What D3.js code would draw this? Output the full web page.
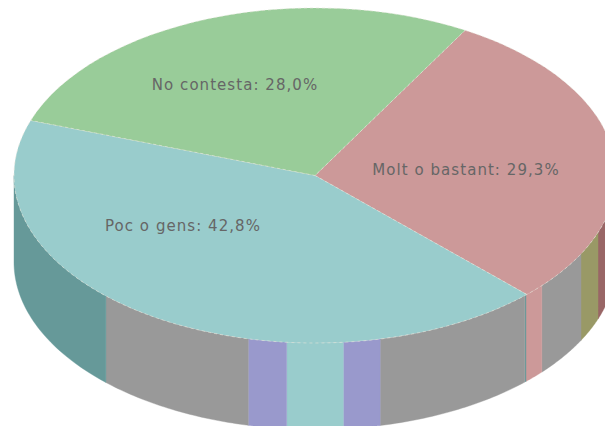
<!DOCTYPE html>
<html>
<head>
<meta charset="utf-8">
<script src="https://d3js.org/d3.v7.min.js"></script>
<style>
  html, body { margin: 0; padding: 0; background: #fff; }
  svg { display: block; }
</style>
</head>
<body>
<div id="chart"></div>
<script>
// top face of the pie
var categories = ["Molt o bastant", "Poc o gens", "No contesta"];
var percents = [29.3, 42.8, 28.0];
var percentLabels = ["29,3%", "42,8%", "28,0%"];
var sliceColors = ["#cc9999", "#99cccc", "#99cc99"];

// side wall bands, degrees along the 180 degree front, from the right end round to the left
var wallShares = [19.9, 8.0, 13.2, 4.4, 0.3, 31.7, 7.1, 10.8, 7.4, 31.2, 46];
var wallColors = ["#996666", "#999966", "#999999", "#cc9999", "#669999", "#999999",
                  "#9999cc", "#99cccc", "#9999cc", "#999999", "#669999"];

var width = 605, height = 426;
var cx = 315, cy = 175.5, rx = 301, ry = 167.5, depth = 86.5;
var startDeg = 29.9;
var labelAt = [[466, 175], [183, 231], [235, 90]];

var svg = d3.select("#chart").append("svg")
  .attr("width", width)
  .attr("height", height);

// ellipse position for a pie angle (clockwise from top)
var ex = d3.scaleLinear().domain([-1, 1]).range([cx - rx, cx + rx]);
var ey = d3.scaleLinear().domain([-1, 1]).range([cy - ry, cy + ry]);

var wallPie = d3.pie().sort(null)
  .startAngle(Math.PI / 2)
  .endAngle(Math.PI * 3 / 2);

var wallArea = d3.area()
  .x(function(a) { return ex(Math.sin(a)); })
  .y0(function(a) { return ey(-Math.cos(a)); })
  .y1(function(a) { return ey(-Math.cos(a)) + depth; });

svg.append("g").selectAll("path")
  .data(wallPie(wallShares))
  .enter()
  .append("path")
  .attr("fill", function(d, i) { return wallColors[i]; })
  .attr("stroke", function(d, i) { return wallColors[i]; })
  .attr("stroke-width", 0.4)
  .attr("d", function(d) {
    var steps = d3.range(0, 41).map(function(k) {
      return d.startAngle + (d.endAngle - d.startAngle) * k / 40;
    });
    return wallArea(steps);
  });

var start = startDeg * Math.PI / 180;
var pie = d3.pie().sort(null).startAngle(start).endAngle(start + Math.PI * 2);
var arc = d3.arc().innerRadius(0).outerRadius(rx);

svg.append("g")
  .attr("transform", "translate(" + cx + "," + cy + ") scale(1," + (ry / rx) + ")")
  .selectAll("path")
  .data(pie(percents))
  .enter()
  .append("path")
  .attr("fill", function(d, i) { return sliceColors[i]; })
  .attr("stroke", "#e4e4d8")
  .attr("stroke-width", 0.6)
  .attr("stroke-dasharray", "3 3")
  .attr("vector-effect", "non-scaling-stroke")
  .attr("d", arc);

svg.append("g").selectAll("text")
  .data(categories)
  .enter()
  .append("text")
  .attr("x", function(d, i) { return labelAt[i][0]; })
  .attr("y", function(d, i) { return labelAt[i][1]; })
  .attr("text-anchor", "middle")
  .attr("font-family", "'DejaVu Sans', sans-serif")
  .attr("font-size", 15)
  .attr("letter-spacing", 1.05)
  .attr("fill", "#666666")
  .text(function(d, i) { return d + ": " + percentLabels[i]; });
</script>
</body>
</html>
